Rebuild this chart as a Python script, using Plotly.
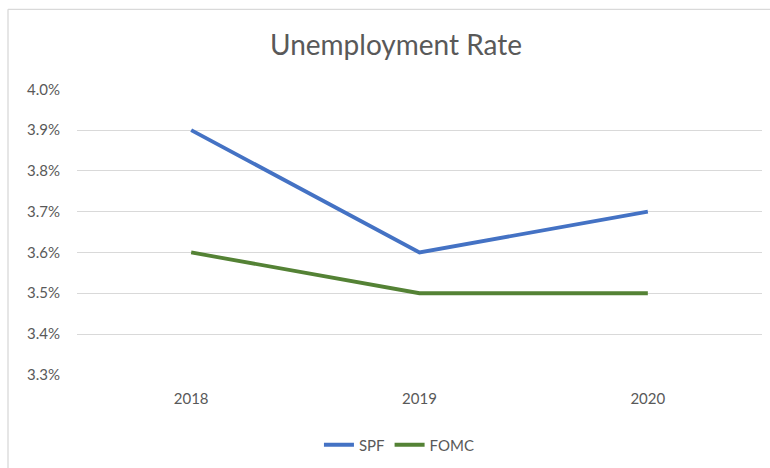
import plotly.graph_objects as go

years = ["2018", "2019", "2020"]
spf = [3.9, 3.6, 3.7]
fomc = [3.6, 3.5, 3.5]
y_ticks = [3.3, 3.4, 3.5, 3.6, 3.7, 3.8, 3.9, 4.0]
y_labels = [f"{v:.1f}%" for v in y_ticks]

W, H = 770, 468
ML, MR, MT, MB = 77, 8, 89, 92
pw, ph = W - ML - MR, H - MT - MB

def px_x(p):
    return (p - ML) / pw

def px_y(p):
    return (H - MB - p) / ph

fig = go.Figure()
fig.add_trace(go.Scatter(x=years, y=spf, name="SPF", mode="lines",
                         line=dict(color="#4472C4", width=3.8)))
fig.add_trace(go.Scatter(x=years, y=fomc, name="FOMC", mode="lines",
                         line=dict(color="#548235", width=3.8)))

border = "#d9d9d9"
fig.update_layout(
    width=W, height=H,
    margin=dict(l=ML, r=MR, t=MT, b=MB),
    paper_bgcolor="white", plot_bgcolor="white",
    font=dict(family="Lato", color="#595959", size=15),
    title=dict(text="Unemployment Rate", x=396 / W, xanchor="center",
               y=1 - 45 / H, yanchor="middle",
               font=dict(family="Lato", size=28, color="#595959")),
    xaxis=dict(type="category", range=[-0.5, 2.5], showgrid=False,
               showline=False, zeroline=False, ticks="",
               ticklabelstandoff=13, tickfont=dict(size=15)),
    yaxis=dict(range=[3.2995, 4.0008], tickvals=y_ticks, ticktext=y_labels,
               showgrid=True, gridcolor=border, gridwidth=1.3,
               zeroline=False, showline=False, ticks="",
               ticklabelstandoff=16, tickfont=dict(size=15)),
    legend=dict(orientation="h", x=0.47, xanchor="center",
                y=px_y(445), yanchor="middle",
                font=dict(size=15, color="#595959"),
                itemwidth=30, tracegroupgap=0),
    showlegend=True,
    shapes=[
        dict(type="line", xref="paper", yref="paper",
             x0=px_x(8), x1=px_x(772), y0=px_y(9), y1=px_y(9),
             line=dict(color=border, width=1.3)),
        dict(type="line", xref="paper", yref="paper",
             x0=px_x(8), x1=px_x(8), y0=px_y(9), y1=px_y(472),
             line=dict(color=border, width=1.3)),
    ],
)

fig.write_html("out.html")
